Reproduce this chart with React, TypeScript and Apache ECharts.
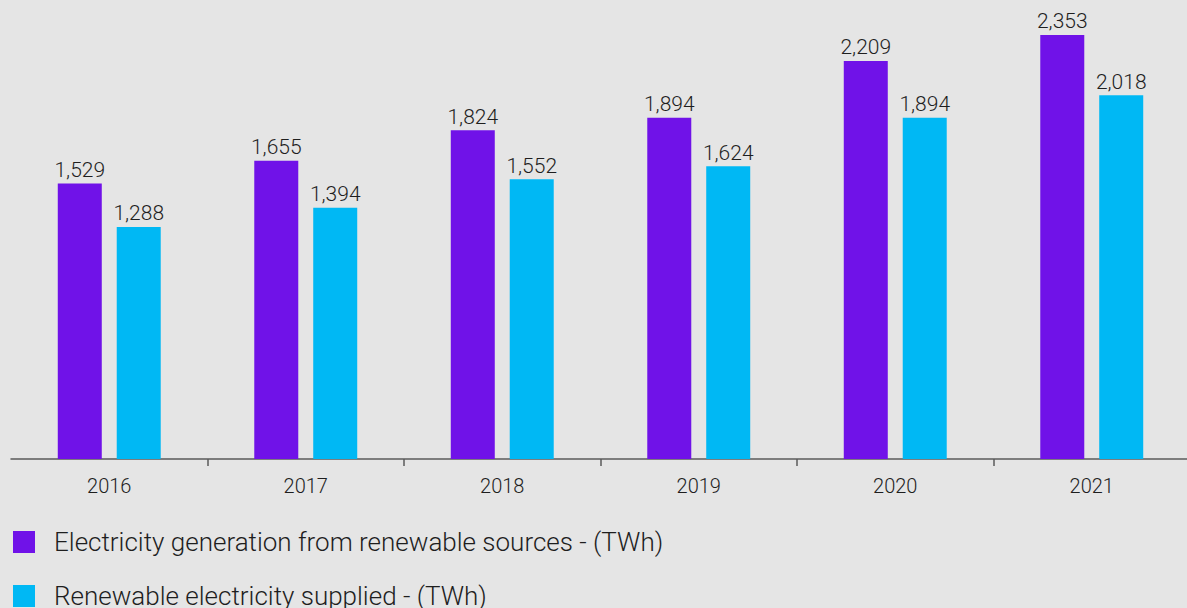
import React, { useEffect, useRef } from "react";
import * as echarts from "echarts";

const years = ["2016", "2017", "2018", "2019", "2020", "2021"];
const generation = [1529, 1655, 1824, 1894, 2209, 2353];
const supplied = [1288, 1394, 1552, 1624, 1894, 2018];
const seriesNames = [
  "Electricity generation from renewable sources - (TWh)",
  "Renewable electricity supplied - (TWh)",
];

const FONT = "Roboto, 'Liberation Sans', sans-serif";
const WEIGHT = 300;

export default function App() {
  const ref = useRef<HTMLDivElement>(null);
  useEffect(() => {
    const chart = echarts.init(ref.current!, null, { renderer: "svg" });
    const label = {
      show: true,
      position: "top" as const,
      distance: 3,
      color: "#1e1e1e",
      fontSize: 21,
      fontWeight: WEIGHT,
      fontFamily: FONT,
      formatter: (p: any) => Number(p.value).toLocaleString("en-US"),
    };
    const legendBase = {
      orient: "vertical",
      left: 13,
      padding: 0,
      itemWidth: 22,
      itemHeight: 22,
      icon: "rect",
      textStyle: {
        fontSize: 26,
        fontWeight: WEIGHT,
        lineHeight: 22,
        color: "#1e1e1e",
        fontFamily: FONT,
        padding: [0, 0, 0, 14],
      },
    };
    chart.setOption({
      animation: false,
      backgroundColor: "#e5e5e5",
      textStyle: { fontFamily: FONT },
      grid: { left: 11, right: 0, top: 8.5, bottom: 149 },
      legend: [
        { ...legendBase, top: 529, data: [seriesNames[0]] },
        { ...legendBase, top: 583, data: [seriesNames[1]] },
      ],
      xAxis: {
        type: "category",
        data: years,
        axisLine: { lineStyle: { color: "#5a5a5a", width: 1.5 } },
        axisTick: {
          show: true,
          length: 7,
          interval: (i: number) => i > 0,
          lineStyle: { color: "#5a5a5a", width: 1.5 },
        },
        axisLabel: {
          color: "#1e1e1e",
          fontSize: 20,
          fontWeight: WEIGHT,
          margin: 17,
          fontFamily: FONT,
        },
      },
      yAxis: {
        type: "value",
        min: 0,
        max: 2500,
        show: false,
        splitLine: { show: false },
      },
      series: [
        {
          name: seriesNames[0],
          type: "bar",
          data: generation,
          barWidth: 44,
          barGap: "34%",
          itemStyle: { color: "#7012e8" },
          label,
        },
        {
          name: seriesNames[1],
          type: "bar",
          data: supplied,
          barWidth: 44,
          itemStyle: { color: "#00b8f4" },
          label,
        },
      ],
    });
    return () => chart.dispose();
  }, []);
  return (
    <div
      style={{
        position: "fixed",
        left: 0,
        top: 0,
        width: 1187,
        height: 608,
        overflow: "hidden",
        background: "#e5e5e5",
      }}
    >
      <div ref={ref} style={{ width: 1190, height: 608 }} />
    </div>
  );
}
